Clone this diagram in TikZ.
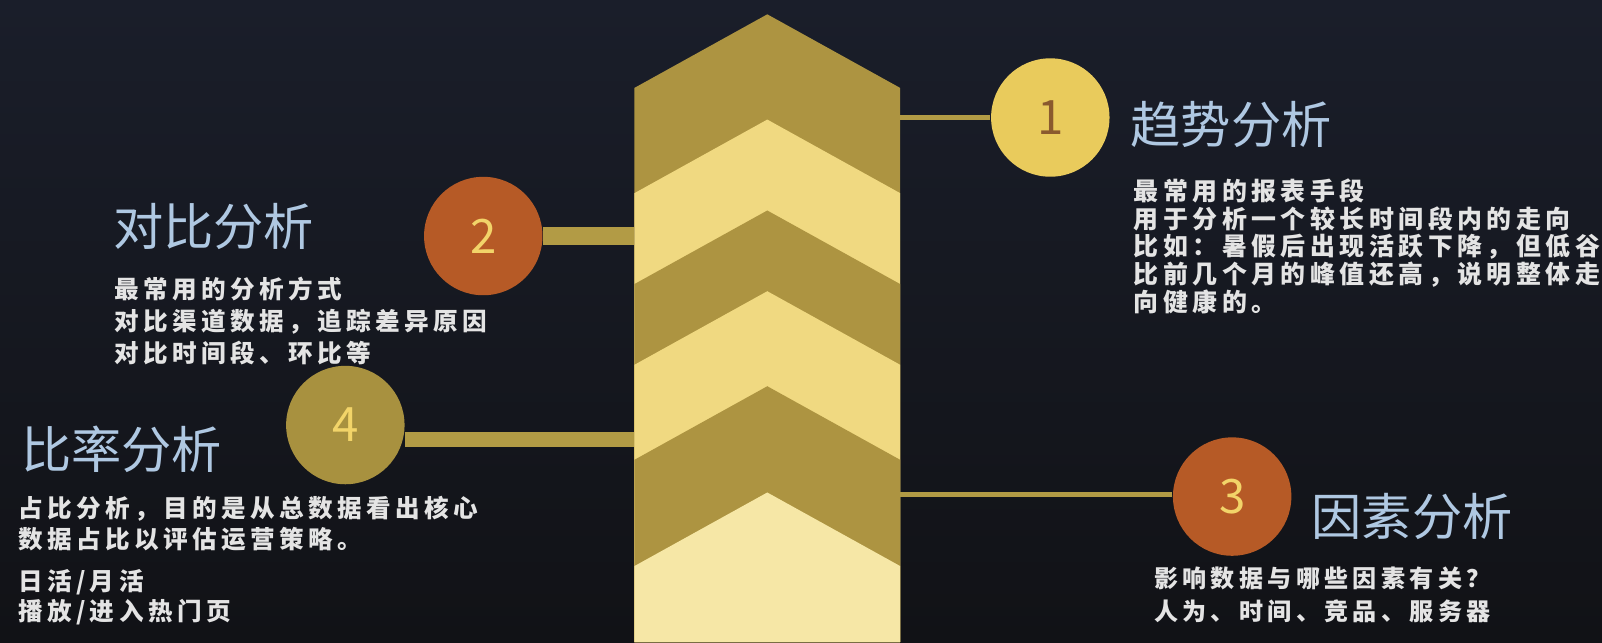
\documentclass[tikz,border=0pt]{standalone}
\usepackage{fontspec}
\setmainfont{Noto Sans CJK SC}
\newfontfamily\cjkbody[LetterSpace=18]{Noto Sans CJK SC}
\usetikzlibrary{positioning}
\definecolor{bgtop}{HTML}{1A1E2A}
\definecolor{bgbot}{HTML}{111216}
\definecolor{bandDark}{HTML}{AD9441}
\definecolor{bandLight}{HTML}{F0D981}
\definecolor{bandPale}{HTML}{F6E7A6}
\definecolor{linkgold}{HTML}{B29B45}
\definecolor{dotYellow}{HTML}{E9CB5C}
\definecolor{dotRust}{HTML}{B65A26}
\definecolor{dotOlive}{HTML}{A8913F}
\definecolor{numYellow}{HTML}{F2D469}
\definecolor{numBrown}{HTML}{8A5A2E}
\definecolor{titleblue}{HTML}{AFC8E2}
\definecolor{bodygray}{HTML}{E4E4E4}
\tikzset{
  title/.style={anchor=west, inner sep=0pt, text=titleblue,
    font=\fontsize{14.3pt}{16pt}\selectfont},
  body/.style={anchor=north west, inner sep=0pt, align=left, text=bodygray,
    font=\cjkbody\bfseries\fontsize{7pt}{9.16pt}\selectfont},
  badge/.style={circle, minimum size=1.185cm, inner sep=0pt,
    font=\fontsize{13.5pt}{15pt}\selectfont},
  link/.style={draw=linkgold, line width=#1}
}

\begin{document}
\begin{tikzpicture}[x={(0.010217cm,0)}, y={(0,-0.010217cm)}]
    \useasboundingbox (0,0) rectangle (1568,628.4);
    \shade[top color=bgtop, bottom color=bgbot] (0,0) rectangle (1568,628.4);

    % the chevron column
    \coordinate (colL) at (621,0);
    \coordinate (colR) at (881,0);
    \foreach \c/\col in {14/bandDark, 117/bandLight, 206/bandDark,
                         285/bandLight, 378/bandDark, 482/bandPale}
      \fill[\col] (621,\c+72) -- (751,\c) -- (881,\c+72)
                  -- (881,628.4) -- (621,628.4) -- cycle;

    % badges
    \node[badge, fill=dotYellow, text=numBrown] (n1) at (1028,115) {1};
    \node[badge, fill=dotRust, text=numYellow] (n2) at (473,231) {2};
    \node[badge, fill=dotRust, text=numYellow] (n3) at (1206,486) {3};
    \node[badge, fill=dotOlive, text=numYellow] (n4) at (338,416) {4};

    % links to the column
    \draw[link=1.2pt] (colR |- n1.west) -- (n1.west);
    \draw[link=5.2pt] (n2.east) -- (n2.east -| colL);
    \draw[link=4.4pt] (n4.east |- 0,430) -- (colL |- 0,430);
    \draw[link=1.5pt] (colR |- 0,484) -- (n3.west |- 0,484);

    % titles
    \node[title] (t1) at (1106,122) {趋势分析};
    \node[title] (t2) at (110,222) {对比分析};
    \node[title] (t3) at (1283,505) {因素分析};
    \node[title] (t4) at (20,440) {比率分析};

    % descriptions
    \node[body, font=\cjkbody\bfseries\fontsize{7.1pt}{7.92pt}\selectfont]
      (d1) at (1109,174) {最常用的报表手段\\用于分析一个较长时间段内的走向\\
      比如：暑假后出现活跃下降，但低谷\\比前几个月的峰值还高，说明整体走\\向健康的。};
    \node[body] (d2) at (111,270)
      {最常用的分析方式\\对比渠道数据，追踪差异原因\\对比时间段、环比等};
    \node[body, font=\cjkbody\bfseries\fontsize{6.85pt}{9.3pt}\selectfont]
      (d3) at (1129,554) {影响数据与哪些因素有关？\\人为、时间、竞品、服务器};
    \node[body, font=\cjkbody\bfseries\fontsize{7pt}{8.72pt}\selectfont]
      (d4) at (17,485) {占比分析，目的是从总数据看出核心\\数据占比以评估运营策略。\\[3.2pt]
      日活/月活\\播放/进入热门页};
\end{tikzpicture}
\end{document}
